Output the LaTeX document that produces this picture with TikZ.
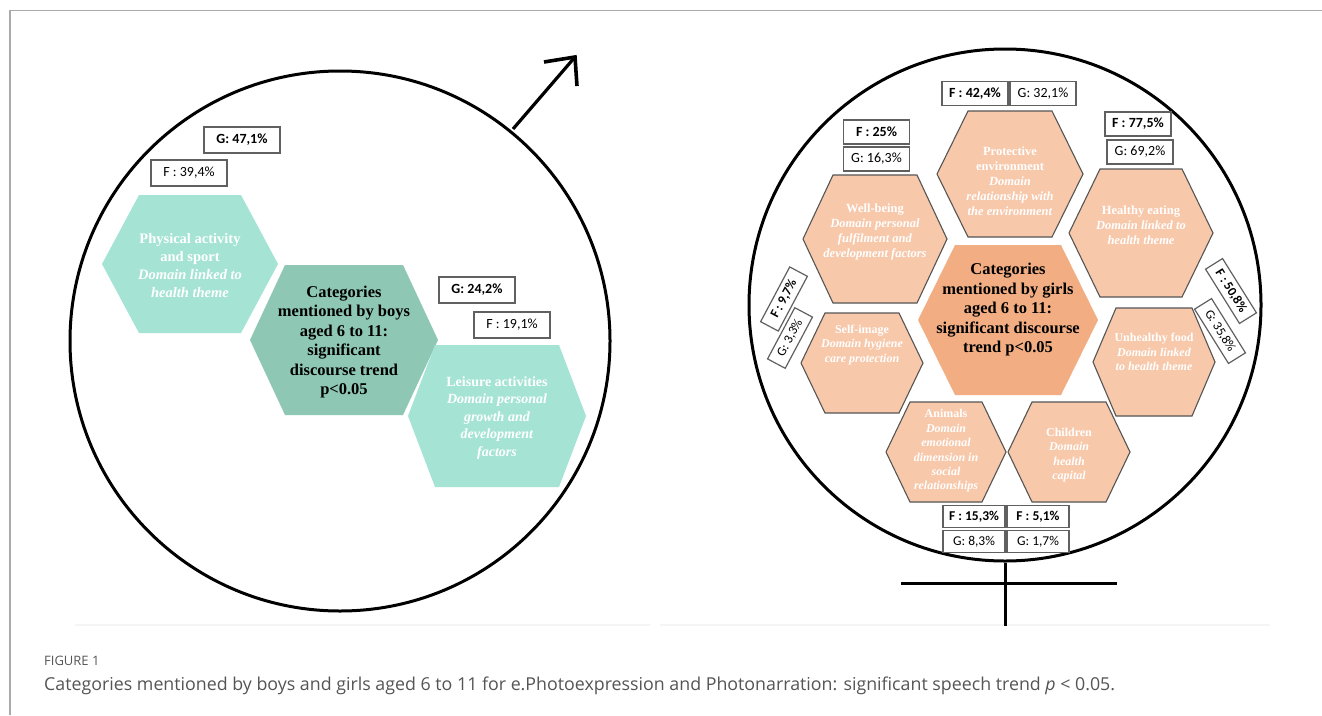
\documentclass[tikz,border=0pt]{standalone}
\usepackage{fontspec}
\setmainfont{Liberation Serif}
\newfontfamily\boxfont{Carlito}
\newfontfamily\capfont{Open Sans}
\definecolor{mintL}{HTML}{A5E4D4}
\definecolor{mintD}{HTML}{8EC8B4}
\definecolor{peachL}{HTML}{F7C8AA}
\definecolor{peachD}{HTML}{F2AE82}
\definecolor{hexline}{HTML}{555555}
\definecolor{boxline}{HTML}{606060}
\definecolor{framegray}{HTML}{AAAAAA}
\definecolor{captext}{HTML}{555555}
% hexagon: centre x, centre y, half width (tip), half height, half top edge, style
\newcommand\hexa[6]{\draw[#6] (#1-#3,#2) -- (#1-#5,#2-#4) -- (#1+#5,#2-#4) -- (#1+#3,#2) -- (#1+#5,#2+#4) -- (#1-#5,#2+#4) -- cycle;}
\tikzset{
  mintlight/.style={fill=mintL,draw=none},
  mintdark/.style={fill=mintD,draw=none},
  peachlight/.style={fill=peachL,draw=hexline,line width=1.1pt},
  peachdark/.style={fill=peachD,draw=none},
  symbol/.style={line width=3.2pt,draw=black},
  pct/.style={draw=boxline,line width=1.2pt,fill=white,inner sep=0pt,
    font=\boxfont\fontsize{14}{16}\selectfont},
  pctbig/.style={pct,minimum width=76pt,minimum height=26pt},
  pctsmall/.style={pct,minimum width=66pt,minimum height=24pt},
  pctlow/.style={pct,minimum width=62pt,minimum height=22pt,font=\boxfont\fontsize{13.5}{15}\selectfont},
  pcttilt/.style={pct,minimum width=62pt,minimum height=20pt,font=\boxfont\fontsize{13}{15}\selectfont},
  boldpct/.style={font=\boxfont\bfseries\fontsize{14}{16}\selectfont},
  hextext/.style={text=white,align=center,inner sep=0pt,font=\bfseries\fontsize{14.5}{18}\selectfont},
  hexsmall/.style={text=white,align=center,inner sep=0pt,font=\bfseries\fontsize{12.5}{15}\selectfont},
  hextiny/.style={text=white,align=center,inner sep=0pt,font=\bfseries\fontsize{12}{14.4}\selectfont},
  centretext/.style={text=black,align=center,inner sep=0pt,font=\bfseries\fontsize{16.5}{19.5}\selectfont},
}
\begin{document}
\begin{tikzpicture}[x=1pt,y=-1pt]
\useasboundingbox (0,0) rectangle (1322,715);
\fill[white] (0,0) rectangle (1322,715);
% page frame
\draw[framegray,line width=1.5pt] (10,715) -- (10,10.5) -- (1322,10.5);
% faint rules under the two panels
\draw[gray!8,line width=2pt] (75,625) -- (650,625);
\draw[gray!8,line width=2pt] (660,625) -- (1270,625);

% ---------- boys panel ----------
\node[circle,draw=black,line width=3pt,minimum size=540pt,inner sep=0pt] (boyscircle) at (340,341) {};
\coordinate (arrowfoot) at (513,129);
\coordinate (arrowtip) at (575,57);
\coordinate (arrowarmA) at (544,62);
\coordinate (arrowarmB) at (577,86);
\draw[symbol] (arrowfoot) -- (arrowtip);
\draw[symbol,line width=3.6pt,line join=miter] (arrowarmA) -- (arrowtip) -- (arrowarmB);

\hexa{190}{264}{88}{69}{51}{mintlight}
\hexa{344}{340}{94}{75}{59}{mintdark}
\hexa{497}{416}{89}{71}{62}{mintlight}

\node[hextext] (physical) at (190,266) {Physical activity\\and sport\\\textit{Domain linked to}\\\textit{health theme}};
\node[centretext] (boyscentre) at (344,342) {Categories\\mentioned by boys\\aged 6 to 11:\\significant\\discourse trend\\p<0.05};
\node[hextext,font=\bfseries\fontsize{14}{17.5}\selectfont] (leisure) at (497,418) {Leisure activities\\\textit{Domain personal}\\\textit{growth and}\\\textit{development}\\\textit{factors}};

\node[pctbig,boldpct] (gphys) at (242,140) {G: 47,1\%};
\node[pctbig] (fphys) at (189,173) {F : 39,4\%};
\node[pctbig,boldpct] (gleis) at (477,290) {G: 24,2\%};
\node[pctbig] (fleis) at (512,325) {F : 19,1\%};

% ---------- girls panel ----------
\node[circle,draw=black,line width=3pt,minimum size=512pt,inner sep=0pt] (girlscircle) at (1005,305) {};
\coordinate (crossstem) at (1005,626);
\coordinate (crossleft) at (901,583);
\coordinate (crossright) at (1117,583);
\draw[symbol,line width=3pt] (girlscircle.south) -- (crossstem);
\draw[symbol,line width=3pt] (crossleft) -- (crossright);

\hexa{1010}{174}{73}{63}{42}{peachlight}
\hexa{875}{239}{72}{64}{42}{peachlight}
\hexa{1141}{233}{72}{64}{41}{peachlight}
\hexa{862}{363}{61}{50}{37}{peachlight}
\hexa{1154}{362}{61}{54}{38}{peachlight}
\hexa{946}{452}{60}{50}{36}{peachlight}
\hexa{1069}{452}{61}{50}{37}{peachlight}
\hexa{1008}{320}{90}{75}{53}{peachdark}

\node[hexsmall] (protective) at (1010,181) {Protective\\environment\\\textit{Domain}\\\textit{relationship with}\\\textit{the environment}};
\node[hexsmall] (wellbeing) at (875,232) {Well-being\\\textit{Domain personal}\\\textit{fulfilment and}\\\textit{development factors}};
\node[hexsmall] (healthy) at (1141,225) {Healthy eating\\\textit{Domain linked to}\\\textit{health theme}};
\node[hextiny] (selfimage) at (862,345) {Self-image\\\textit{Domain hygiene}\\\textit{care protection}};
\node[hextiny] (unhealthy) at (1154,352) {Unhealthy food\\\textit{Domain linked}\\\textit{to health theme}};
\node[hextiny] (animals) at (946,451) {Animals\\\textit{Domain}\\\textit{emotional}\\\textit{dimension in}\\\textit{social}\\\textit{relationships}};
\node[hextiny] (children) at (1069,455) {Children\\\textit{Domain}\\\textit{health}\\\textit{capital}};
\node[centretext] (girlscentre) at (1008,310) {Categories\\mentioned by girls\\aged 6 to 11:\\significant discourse\\trend p<0.05};

\node[pctsmall,boldpct] (fprot) at (975,93.5) {F : 42,4\%};
\node[pctsmall] (gprot) at (1043,93.5) {G: 32,1\%};
\node[pctsmall,boldpct] (fwell) at (876.5,132) {F : 25\%};
\node[pctsmall] (gwell) at (876.5,159) {G: 16,3\%};
\node[pctsmall,boldpct] (fheal) at (1138,124) {F : 77,5\%};
\node[pctsmall] (gheal) at (1140,152) {G: 69,2\%};
\node[pctlow,font=\boxfont\bfseries\fontsize{13.5}{15}\selectfont] (fanim) at (974,516.5) {F : 15,3\%};
\node[pctlow,font=\boxfont\bfseries\fontsize{13.5}{15}\selectfont] (fchil) at (1038,516.5) {F : 5,1\%};
\node[pctlow] (ganim) at (974,541.5) {G: 8,3\%};
\node[pctlow] (gchil) at (1038,541.5) {G: 1,7\%};
\node[pcttilt,font=\boxfont\bfseries\fontsize{13}{15}\selectfont,rotate=62] (fself) at (784,299) {F : 9,7\%};
\node[pcttilt,minimum width=58pt,rotate=62] (gself) at (790,338) {G: 3,3\%};
\node[pcttilt,font=\boxfont\bfseries\fontsize{13}{15}\selectfont,minimum width=64pt,rotate=-58] (funh) at (1231,291) {F : 50,8\%};
\node[pcttilt,minimum width=64pt,rotate=-58] (gunh) at (1220,331) {G: 35,8\%};

% ---------- caption ----------
\node[anchor=base west,inner sep=0pt,text=captext,font=\capfont\fontsize{13}{15}\selectfont] (figlabel) at (44,665) {FIGURE 1};
\node[anchor=base west,inner sep=0pt,text=captext,font=\capfont\fontsize{17.8}{21}\selectfont] (caption) at (44,690) {Categories mentioned by boys and girls aged 6 to 11 for e.Photoexpression and Photonarration: significant speech trend \textit{p}~<~0.05.};
\end{tikzpicture}
\end{document}
